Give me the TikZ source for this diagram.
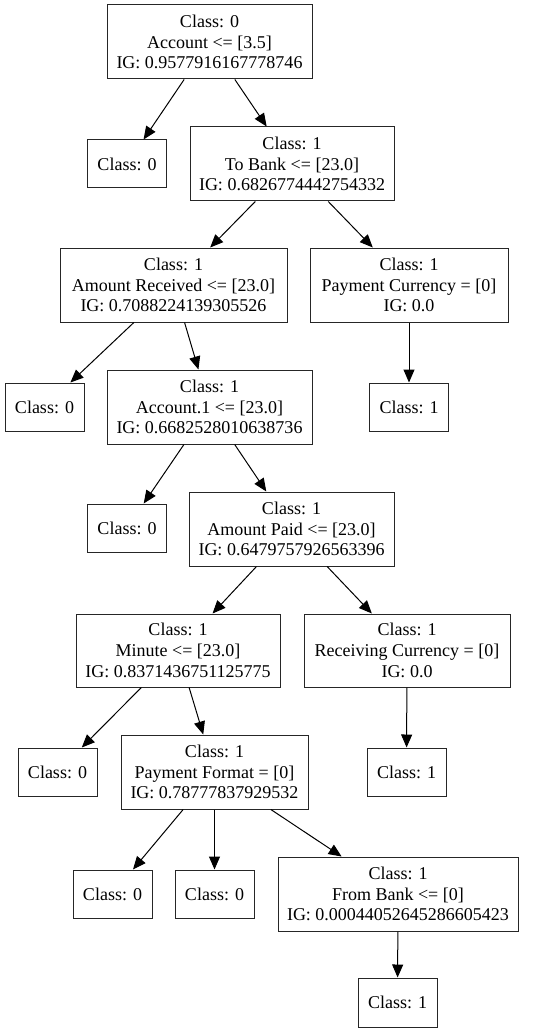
\documentclass[tikz,border=0pt]{standalone}
\usepackage{fontspec}
\setmainfont{Liberation Serif}
\usetikzlibrary{arrows.meta}
\begin{document}
\begin{tikzpicture}[x=1pt,y=-1pt,
  box/.style={draw=black!85, line width=1pt, align=center, inner sep=0pt, fill=white,
    font=\fontsize{18}{20.7}\selectfont},
  inner/.style={box, minimum height=74pt},
  leaf/.style={box, minimum width=79pt, minimum height=48pt},
  arr/.style={-{Triangle[length=13pt,width=11pt]}, line width=1pt, black}]
\fill[white] (0,0) rectangle (533,1032);
\useasboundingbox (0,0) rectangle (533,1032);

\node[inner, minimum width=205pt] (root) at (209.5,42) {Class: 0\\Account <= [3.5]\\IG: 0.9577916167778746};
\node[leaf] (l1) at (127,164) {Class: 0};
\node[inner, minimum width=204pt] (tobank) at (292,164) {Class: 1\\To Bank <= [23.0]\\IG: 0.6826774442754332};
\node[inner, minimum width=227pt] (amtrec) at (173.5,285) {Class: 1\\Amount Received <= [23.0]\\IG: 0.7088224139305526};
\node[inner, minimum width=198pt] (paycur) at (409,285) {Class: 1\\Payment Currency = [0]\\IG: 0.0};
\node[leaf] (l2) at (44.5,407) {Class: 0};
\node[inner, minimum width=205pt] (acc1) at (209.5,407) {Class: 1\\Account.1 <= [23.0]\\IG: 0.6682528010638736};
\node[leaf] (l3) at (409,407) {Class: 1};
\node[leaf] (l4) at (127,528) {Class: 0};
\node[inner, minimum width=205pt] (amtpaid) at (291.5,529) {Class: 1\\Amount Paid <= [23.0]\\IG: 0.6479757926563396};
\node[inner, minimum width=204pt, minimum height=73pt] (minute) at (178,650.5) {Class: 1\\Minute <= [23.0]\\IG: 0.8371436751125775};
\node[inner, minimum width=206pt, minimum height=73pt] (reccur) at (407,650.5) {Class: 1\\Receiving Currency = [0]\\IG: 0.0};
\node[leaf] (l5) at (57.5,772) {Class: 0};
\node[inner, minimum width=187pt] (payfmt) at (214.5,772) {Class: 1\\Payment Format = [0]\\IG: 0.78777837929532};
\node[leaf] (l6) at (406.5,772) {Class: 1};
\node[leaf] (l7) at (112.5,894) {Class: 0};
\node[leaf] (l8) at (214.5,894) {Class: 0};
\node[inner, minimum width=240pt] (frombank) at (398,894) {Class: 1\\From Bank <= [0]\\IG: 0.00044052645286605423};
\node[leaf, minimum height=49pt] (l9) at (397.5,1002.5) {Class: 1};

\draw[arr] (root) -- (l1);
\draw[arr] (root) -- (tobank);
\draw[arr] (tobank) -- (amtrec);
\draw[arr] (tobank) -- (paycur);
\draw[arr] (amtrec) -- (l2);
\draw[arr] (amtrec) -- (acc1);
\draw[arr] (paycur) -- (l3);
\draw[arr] (acc1) -- (l4);
\draw[arr] (acc1) -- (amtpaid);
\draw[arr] (amtpaid) -- (minute);
\draw[arr] (amtpaid) -- (reccur);
\draw[arr] (reccur) -- (l6);
\draw[arr] (minute) -- (l5);
\draw[arr] (minute) -- (payfmt);
\draw[arr] (payfmt) -- (l7);
\draw[arr] (payfmt) -- (l8);
\draw[arr] (payfmt) -- (frombank);
\draw[arr] (frombank) -- (l9);
\end{tikzpicture}
\end{document}
